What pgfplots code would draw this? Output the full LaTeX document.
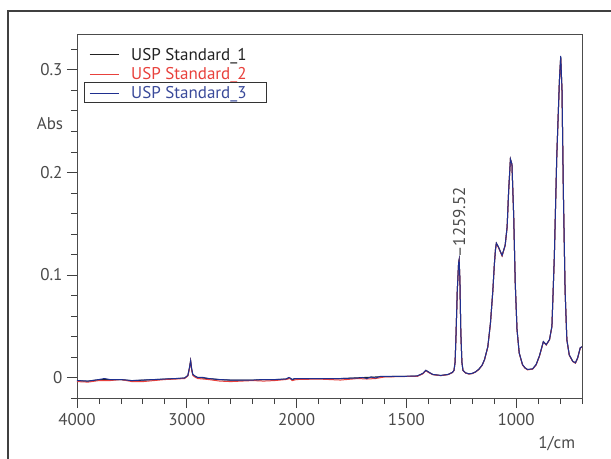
\documentclass[border=0pt]{standalone}
\usepackage{fontspec}
\setmainfont{PT Sans}
\usepackage{pgfplots}
\usepackage{pgfplotstable}
\pgfplotsset{compat=1.18}

\definecolor{txt}{HTML}{4A4A4A}
\definecolor{sone}{HTML}{222222}
\definecolor{stwo}{HTML}{E8413C}
\definecolor{sthree}{HTML}{1F2F8F}
\definecolor{lthree}{HTML}{3A4A9A}
\newcommand\lbl{\fontsize{17bp}{20bp}\selectfont}

% wavenumber (1/cm) vs absorbance
\pgfplotstableread{
w a
4000 -0.003
3900 -0.0035
3800 -0.002
3750 -0.001
3700 -0.002
3600 -0.002
3500 -0.003
3400 -0.0025
3300 -0.002
3200 -0.0015
3100 -0.001
3020 -0.0005
2990 0.002
2975 0.010
2965 0.0165
2955 0.008
2945 0.003
2920 0.001
2900 0.000
2850 0.000
2800 -0.001
2700 -0.002
2600 -0.0025
2500 -0.0025
2400 -0.0025
2300 -0.002
2200 -0.002
2100 -0.0015
2070 0.000
2060 -0.0005
2040 -0.002
2020 -0.001
2000 -0.001
1900 -0.001
1800 -0.001
1720 -0.0005
1700 0.000
1680 -0.001
1660 0.0005
1640 -0.0005
1620 0.001
1600 0.001
1500 0.0012
1450 0.0015
1425 0.004
1411 0.007
1400 0.0055
1380 0.003
1343 0.002
1310 0.003
1290 0.005
1283 0.007
1278 0.015
1274 0.040
1268 0.085
1262 0.112
1259.5 0.115
1256 0.095
1252 0.045
1247 0.015
1242 0.007
1230 0.0045
1215 0.0036
1200 0.004
1185 0.0055
1170 0.008
1155 0.012
1144 0.0175
1129 0.030
1117 0.053
1106 0.085
1099 0.111
1094 0.125
1090 0.131
1081 0.1275
1064 0.119
1050 0.129
1041 0.147
1034 0.1825
1026 0.213
1019 0.208
1011 0.157
1004 0.092
996 0.047
986 0.024
971 0.0126
960 0.0095
948 0.0078
925 0.0084
909 0.0126
894 0.021
876 0.035
863 0.032
848 0.037
837 0.050
826 0.118
815 0.215
803 0.289
797 0.3136
791 0.280
785 0.1825
777 0.085
769 0.037
758 0.022
742 0.0158
730 0.0143
720 0.019
708 0.029
700 0.030
}\specthree

\pgfplotstableread{
w a
4000 -0.004
3900 -0.0045
3800 -0.003
3700 -0.003
3600 -0.002
3500 -0.004
3400 -0.004
3300 -0.003
3200 -0.002
3100 -0.0015
3020 -0.001
2990 0.0015
2975 0.009
2965 0.016
2955 0.007
2945 0.002
2920 0.000
2900 -0.001
2800 -0.002
2700 -0.0035
2600 -0.004
2500 -0.0035
2400 -0.003
2300 -0.0035
2200 -0.003
2100 -0.002
2060 -0.001
2040 -0.003
2000 -0.002
1900 -0.0015
1800 -0.0025
1720 -0.001
1680 -0.0015
1640 -0.001
1600 0.0005
1500 0.001
1450 0.0012
1425 0.0035
1411 0.0068
1400 0.005
1380 0.0028
1343 0.0018
1310 0.0028
1290 0.0048
1283 0.0068
1278 0.0148
1274 0.0395
1268 0.0845
1262 0.1112
1259.5 0.1140
1256 0.0943
1252 0.0445
1247 0.0148
1242 0.0068
1230 0.0043
1215 0.0034
1200 0.0038
1185 0.0053
1170 0.0078
1155 0.0118
1144 0.0172
1129 0.0296
1117 0.0526
1106 0.0845
1099 0.1105
1094 0.1245
1090 0.1305
1081 0.1270
1064 0.1185
1050 0.1285
1041 0.1465
1034 0.1820
1026 0.2125
1019 0.2075
1011 0.1565
1004 0.0915
996 0.0466
986 0.0237
971 0.0122
960 0.0092
948 0.0075
925 0.0081
909 0.0122
894 0.0206
876 0.0347
863 0.0317
848 0.0367
837 0.0497
826 0.1175
815 0.2145
803 0.2880
797 0.3115
791 0.2790
785 0.1820
777 0.0845
769 0.0367
758 0.0217
742 0.0155
730 0.0140
720 0.0187
708 0.0287
700 0.0297
}\spectwo

\pgfplotstableread{
w a
4000 -0.0032
3900 -0.0036
3800 -0.0022
3700 -0.0021
3600 -0.0021
3500 -0.0031
3400 -0.0026
3300 -0.0021
3200 -0.0016
3100 -0.0011
3020 -0.0006
2990 0.0019
2975 0.0098
2965 0.0163
2955 0.0079
2945 0.0029
2920 0.0009
2900 -0.0001
2800 -0.0011
2700 -0.0021
2600 -0.0026
2500 -0.0026
2400 -0.0026
2300 -0.0021
2200 -0.0021
2100 -0.0016
2060 -0.0006
2040 -0.0021
2000 -0.0011
1900 -0.0011
1800 -0.0011
1700 -0.0001
1600 0.0009
1500 0.0011
1450 0.0014
1425 0.0039
1411 0.0069
1400 0.0054
1380 0.0029
1343 0.0019
1310 0.0029
1290 0.0049
1283 0.0069
1278 0.0149
1274 0.0398
1268 0.0848
1262 0.1118
1259.5 0.1148
1256 0.0948
1252 0.0448
1247 0.0149
1242 0.0069
1230 0.0044
1215 0.0035
1200 0.0039
1185 0.0054
1170 0.0079
1155 0.0119
1144 0.0174
1129 0.0299
1117 0.0529
1106 0.0849
1099 0.1109
1094 0.1249
1090 0.1309
1081 0.1274
1064 0.1189
1050 0.1289
1041 0.1469
1034 0.1824
1026 0.2129
1019 0.2079
1011 0.1569
1004 0.0919
996 0.0469
986 0.0239
971 0.0125
960 0.0094
948 0.0077
925 0.0083
909 0.0125
894 0.0209
876 0.0349
863 0.0319
848 0.0369
837 0.0499
826 0.1179
815 0.2149
803 0.2889
797 0.3128
791 0.2798
785 0.1824
777 0.0849
769 0.0369
758 0.0219
742 0.0157
730 0.0142
720 0.0189
708 0.0289
700 0.0299
}\specone

\begin{document}
\begin{tikzpicture}
\begin{axis}[
  scale only axis,
  width=505bp, height=364bp,
  at={(0,0)}, anchor=south west,
  % split scale: 4000-2000 compressed 2x, 2000-700 expanded
  x coord trafo/.code={\pgfmathparse{#1>=2000 ? (4000-#1)/2 : 3000-#1}},
  xmin=4000, xmax=700,
  ymin=-0.02, ymax=0.335,
  xtick={4000,3000,2000,1500,1000},
  xticklabels={4000,3000,2000,1500,1000},
  minor xtick={3800,3600,3400,3200,2800,2600,2400,2200,1900,1800,1700,1600,1400,1300,1200,1100,900,800,700},
  ytick={0,0.1,0.2,0.3},
  yticklabels={0,0.1,0.2,0.3},
  minor ytick={-0.02,0.02,0.04,0.06,0.08,0.12,0.14,0.16,0.18,0.22,0.24,0.26,0.28,0.32},
  tick align=outside,
  xtick pos=bottom, ytick pos=left,
  major tick length=10bp, minor tick length=6bp,
  tick style={color=black!75, line width=0.8bp},
  axis line style={color=black!70, line width=0.9bp},
  /pgf/number format/assume math mode=true,
  tick label style={font=\lbl, color=txt},
  yticklabel style={xshift=-1bp},
  xticklabel style={yshift=-2bp},
  xlabel={1/cm},
  xlabel style={font=\lbl, color=txt, at={(axis description cs:0.95,-0.126)}, anchor=center},
  ylabel={Abs},
  ylabel style={font=\lbl, color=txt, rotate=-90, at={(axis description cs:-0.0535,0.755)}, anchor=center},
  legend style={at={(axis description cs:0,1)}, anchor=north west,
    xshift=12bp, yshift=-12bp, draw=none, fill=none, font=\lbl,
    row sep=1.5bp, column sep=10bp, inner sep=0pt},
  legend image code/.code={\draw[#1] (0bp,0bp) -- (29bp,0bp);},
  legend cell align=left,
  every axis plot/.append style={line width=1bp},
]
\addplot[sone] table[x=w, y=a] {\specone};
\addlegendentry{\textcolor{sone}{USP Standard\_1}}
\addplot[stwo] table[x=w, y=a] {\spectwo};
\addlegendentry{\textcolor{stwo}{USP Standard\_2}}
\addplot[sthree] table[x=w, y=a] {\specthree};
\addlegendentry{\textcolor{lthree}{USP Standard\_3}}
\node[rotate=90, anchor=west, font=\lbl, color=txt, inner sep=1bp, xshift=1bp]
  at (axis cs:1259.52,0.115) {\textendash1259.52};
\end{axis}
\draw[black!80, line width=0.8bp] (7bp,296bp) rectangle (189bp,316bp);
\draw[black!75, line width=1.2bp] (-69bp,-61bp) -- (-69bp,387bp) -- (534bp,387bp);
\pgfresetboundingbox
\useasboundingbox (-77bp,-61bp) rectangle (534bp,398bp);
\end{tikzpicture}
\end{document}
